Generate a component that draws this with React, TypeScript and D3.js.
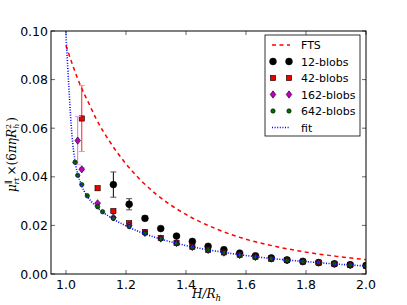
import React from 'react';
import * as d3 from 'd3';

// grid of heights used by the simulations
const hGrid = [1.0526, 1.1053, 1.1579, 1.2105, 1.2632, 1.3158, 1.3684, 1.4211, 1.4737, 1.5263,
  1.5789, 1.6316, 1.6842, 1.7368, 1.7895, 1.8421, 1.8947, 1.9474, 2.0];

const ftsH = [1.0, 1.025, 1.05, 1.075, 1.1, 1.15, 1.2, 1.25, 1.3, 1.35, 1.4, 1.5, 1.6, 1.7, 1.8, 1.9, 2.0];
const ftsVal = [0.094, 0.085, 0.077, 0.0705, 0.064, 0.0537, 0.0453, 0.0385, 0.0329, 0.0283, 0.0245,
  0.0186, 0.0143, 0.0113, 0.0090, 0.0073, 0.0059];

const blobs12H = hGrid.slice(2);
const blobs12Val = [0.0368, 0.0287, 0.0229, 0.0187, 0.0156, 0.0134, 0.0114, 0.0100, 0.0086, 0.0075,
  0.0066, 0.0058, 0.0052, 0.0047, 0.0042, 0.0038, 0.0035];
const blobs12Err = [0.0052, 0.0023, 0.0009, 0.0005, 0.0004, 0.0003, 0.0003, 0.0002, 0.0002, 0.0002,
  0.0002, 0.0002, 0.0002, 0.0002, 0.0002, 0.0002, 0.0002];

const blobs42H = hGrid;
const blobs42Val = [0.064, 0.0353, 0.0259, 0.0209, 0.0173, 0.0148, 0.0128, 0.0112, 0.0100, 0.0089,
  0.0079, 0.0071, 0.0063, 0.0057, 0.0051, 0.0047, 0.0042, 0.0037, 0.0033];
const blobs42Err = [0.0136, 0.0008, 0.0004, 0.0003, 0.0002, 0.0002, 0.0002, 0.0001, 0.0001, 0.0001,
  0.0001, 0.0001, 0.0001, 0.0001, 0.0001, 0.0001, 0.0001, 0.0001, 0.0001];

const blobs162H = [1.039, ...hGrid];
const blobs162Val = [0.0549, 0.0431, 0.0291, 0.0233, 0.0200, 0.0169, 0.0146, 0.0127, 0.0111, 0.0099,
  0.0088, 0.0078, 0.0070, 0.0063, 0.0056, 0.0051, 0.0047, 0.0042, 0.0037, 0.0033];
const blobs162Err = [0.0099, 0.0006, 0.0003, 0.0002, 0.0002, 0.0001, 0.0001, 0.0001, 0.0001, 0.0001,
  0.0001, 0.0001, 0.0001, 0.0001, 0.0001, 0.0001, 0.0001, 0.0001, 0.0001, 0.0001];

const blobs642H = [1.03, 1.039, 1.0526, 1.071, 1.1053, 1.122, ...hGrid.slice(2)];
const blobs642Val = [0.046, 0.0406, 0.0368, 0.0322, 0.0277, 0.0256, 0.0229, 0.0195, 0.0167, 0.0145,
  0.0126, 0.0111, 0.0099, 0.0088, 0.0078, 0.0070, 0.0063, 0.0056, 0.0051, 0.0047, 0.0042, 0.0037, 0.0033];

const fitH = [0.999, 1.0, 1.005, 1.01, 1.015, 1.02, 1.03, 1.04, 1.05, 1.07, 1.1, 1.15, 1.2, 1.25, 1.3,
  1.35, 1.4, 1.5, 1.6, 1.7, 1.8, 1.9, 2.0];
const fitVal = [0.103, 0.099, 0.087, 0.076, 0.0655, 0.057, 0.0465, 0.0408, 0.037, 0.0322, 0.0278,
  0.0232, 0.0198, 0.0171, 0.015, 0.0132, 0.0117, 0.0094, 0.0076, 0.0062, 0.0051, 0.0041, 0.0033];

const xTicks = [1.0, 1.2, 1.4, 1.6, 1.8, 2.0];
const yTicks = [0.0, 0.02, 0.04, 0.06, 0.08, 0.1];

const legendItems = ['FTS', '12-blobs', '42-blobs', '162-blobs', '642-blobs', 'fit'];

const W = 407;
const H = 305;
const margin = { left: 51, right: 41, top: 31, bottom: 31 };

const sans = 'DejaVu Sans, sans-serif';
const serif = 'DejaVu Serif, serif';

const x = d3.scaleLinear().domain([0.95, 2.0]).range([margin.left, W - margin.right]);
const y = d3.scaleLinear().domain([0, 0.1]).range([H - margin.bottom, margin.top]);

const line = d3.line<[number, number]>()
  .x(d => x(d[0]))
  .y(d => y(d[1]))
  .curve(d3.curveMonotoneX);

const zip = (a: number[], b: number[]) => a.map((v, i) => [v, b[i]] as [number, number]);

type Marker = 'circle' | 'square' | 'diamond';

const drawMarker = (kind: Marker, cx: number, cy: number, size: number, fill: string, key: string) => {
  if (kind === 'circle') {
    return <circle key={key} cx={cx} cy={cy} r={size} fill={fill} stroke="#000" strokeWidth={0.6} />;
  }
  if (kind === 'square') {
    return <rect key={key} x={cx - size} y={cy - size} width={size * 2} height={size * 2}
      fill={fill} stroke="#000" strokeWidth={0.6} />;
  }
  const p = `${cx},${cy - size * 1.3} ${cx + size},${cy} ${cx},${cy + size * 1.3} ${cx - size},${cy}`;
  return <polygon key={key} points={p} fill={fill} stroke="#000" strokeWidth={0.6} />;
};

const ErrorSeries = ({ hs, vals, errs, color, capColor, kind, size, fill }: {
  hs: number[]; vals: number[]; errs?: number[]; color: string; capColor: string;
  kind: Marker; size: number; fill: string;
}) => (
  <g>
    {errs && hs.map((h, i) => {
      const cx = x(h);
      const y0 = y(vals[i] - errs[i]);
      const y1 = y(vals[i] + errs[i]);
      return (
        <g key={'e' + i}>
          <line x1={cx} x2={cx} y1={y0} y2={y1} stroke={color} strokeWidth={1} />
          <line x1={cx - 3} x2={cx + 3} y1={y0} y2={y0} stroke={capColor} strokeWidth={1} />
          <line x1={cx - 3} x2={cx + 3} y1={y1} y2={y1} stroke={capColor} strokeWidth={1} />
        </g>
      );
    })}
    {hs.map((h, i) => drawMarker(kind, x(h), y(vals[i]), size, fill, 'm' + i))}
  </g>
);

const App = () => {
  const x0 = margin.left;
  const x1 = W - margin.right;
  const y0 = margin.top;
  const y1 = H - margin.bottom;

  const legX = 265;
  const legY = 35;
  const rowH = 16.5;

  return (
    <svg width={W} height={H} style={{ position: 'absolute', left: 0, top: 0, background: '#fff' }}>
      <defs>
        <clipPath id="plot-clip">
          <rect x={x0} y={y0} width={x1 - x0} height={y1 - y0} />
        </clipPath>
      </defs>
      <rect x={0} y={0} width={W} height={H} fill="#fff" />

      <g clipPath="url(#plot-clip)">
        <path d={line(zip(ftsH, ftsVal)) || ''} fill="none" stroke="#ff0000" strokeWidth={1.5}
          strokeDasharray="4,3.5" />
        <ErrorSeries hs={blobs12H} vals={blobs12Val} errs={blobs12Err} color="#000" capColor="#555"
          kind="circle" size={3.4} fill="#000" />
        <ErrorSeries hs={blobs42H} vals={blobs42Val} errs={blobs42Err} color="#ff2020" capColor="#ff9090"
          kind="square" size={2.6} fill="#ee0000" />
        <ErrorSeries hs={blobs162H} vals={blobs162Val} errs={blobs162Err} color="#d070e0" capColor="#e8a0f0"
          kind="diamond" size={2.8} fill="#bf00bf" />
        <ErrorSeries hs={blobs642H} vals={blobs642Val} color="#000" capColor="#000"
          kind="circle" size={2.2} fill="#007000" />
        <path d={line(zip(fitH, fitVal)) || ''} fill="none" stroke="#0000ff" strokeWidth={1.6}
          strokeDasharray="1,1.6" />
      </g>

      {/* frame */}
      <rect x={x0} y={y0} width={x1 - x0} height={y1 - y0} fill="none" stroke="#000" strokeWidth={1} />

      {/* x ticks */}
      {xTicks.map(t => (
        <g key={'xt' + t}>
          <line x1={x(t)} x2={x(t)} y1={y1} y2={y1 - 4} stroke="#000" strokeWidth={0.6} />
          <line x1={x(t)} x2={x(t)} y1={y0} y2={y0 + 4} stroke="#000" strokeWidth={0.6} />
          <text x={x(t)} y={y1 + 15} textAnchor="middle" fontFamily={sans} fontSize={12.5}>
            {d3.format('.1f')(t)}
          </text>
        </g>
      ))}

      {/* y ticks */}
      {yTicks.map(t => (
        <g key={'yt' + t}>
          <line x1={x0} x2={x0 + 4} y1={y(t)} y2={y(t)} stroke="#000" strokeWidth={0.6} />
          <line x1={x1} x2={x1 - 4} y1={y(t)} y2={y(t)} stroke="#000" strokeWidth={0.6} />
          <text x={x0 - 3} y={y(t) + 4.5} textAnchor="end" fontFamily={sans} fontSize={12.5}>
            {d3.format('.2f')(t)}
          </text>
        </g>
      ))}

      {/* axis labels */}
      <text x={(x0 + x1) / 2 - 2} y={H - 7} textAnchor="middle" fontFamily={serif} fontStyle="italic" fontSize={12}>
        H/R<tspan fontSize={8.5} dy={2.5}>h</tspan>
      </text>
      <text transform={`translate(16,${(y0 + y1) / 2 + 2}) rotate(-90)`} textAnchor="middle"
        fontFamily={serif} fontSize={12}>
        <tspan fontStyle="italic">μ</tspan>
        <tspan fontSize={8} dy={-5}>∥</tspan>
        <tspan fontStyle="italic" fontSize={8} dx={-4} dy={8}>rt</tspan>
        <tspan dx={2} dy={-3}>×(6</tspan>
        <tspan fontStyle="italic">πηR</tspan>
        <tspan fontSize={8} dy={-5}>2</tspan>
        <tspan fontStyle="italic" fontSize={8} dx={-5} dy={8}>h</tspan>
        <tspan dx={2} dy={-3}>)</tspan>
      </text>

      {/* legend */}
      <g>
        <rect x={legX} y={legY} width={95} height={101} fill="#fff" stroke="#000" strokeWidth={0.8} />
        {legendItems.map((name, i) => {
          const cy = legY + 10 + i * rowH;
          const mx0 = legX + 8;
          const mx1 = legX + 24;
          let sym: React.ReactNode = null;
          if (i === 0) {
            sym = <line x1={mx0 - 1} x2={mx1 + 1} y1={cy} y2={cy} stroke="#ff0000" strokeWidth={1.5}
              strokeDasharray="4,3.5" />;
          } else if (i === 5) {
            sym = <line x1={mx0 - 1} x2={mx1 + 1} y1={cy} y2={cy} stroke="#0000ff" strokeWidth={1.6}
              strokeDasharray="1,1.6" />;
          } else {
            const kinds: Marker[] = ['circle', 'square', 'diamond', 'circle'];
            const sizes = [3.4, 2.6, 2.8, 2.2];
            const fills = ['#000', '#ee0000', '#bf00bf', '#007000'];
            sym = (
              <g>
                {drawMarker(kinds[i - 1], mx0, cy, sizes[i - 1], fills[i - 1], 'a')}
                {drawMarker(kinds[i - 1], mx1, cy, sizes[i - 1], fills[i - 1], 'b')}
              </g>
            );
          }
          return (
            <g key={name}>
              {sym}
              <text x={legX + 36} y={cy + 4} fontFamily={sans} fontSize={11}>{name}</text>
            </g>
          );
        })}
      </g>
    </svg>
  );
};

export default App;
